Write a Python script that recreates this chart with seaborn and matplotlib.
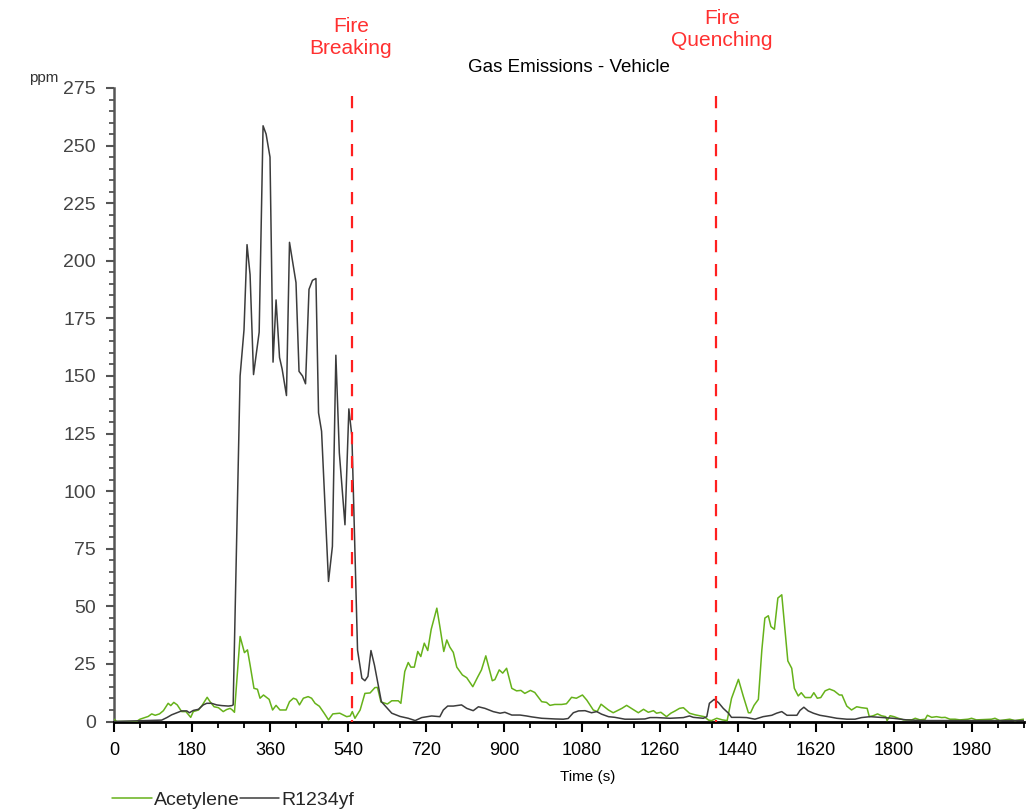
import numpy as np
import pandas as pd
import matplotlib
matplotlib.use("Agg")
import matplotlib.pyplot as plt
import matplotlib.transforms as mtransforms
from matplotlib.ticker import MultipleLocator
import seaborn as sns

# ---- data -------------------------------------------------------------
acet_t = [0, 6, 52, 60, 71, 79, 87, 95, 105, 114, 125, 131, 138, 146, 156, 166, 177, 183,
          195, 204, 215, 222, 231, 241, 252, 260, 268, 273, 278, 291, 301, 308, 314, 323,
          331, 337, 345, 358, 366, 374, 383, 397, 405, 414, 421, 428, 437, 448, 456, 464,
          474, 485, 495, 505, 521, 537, 545, 550, 556, 568, 579, 591, 602, 608, 616, 631,
          641, 656, 662, 671, 679, 685, 693, 701, 708, 716, 724, 732, 745, 752, 761, 768,
          775, 783, 791, 804, 814, 828, 839, 848, 858, 873, 879, 889, 897, 906, 918, 929,
          939, 948, 961, 971, 987, 998, 1006, 1017, 1033, 1044, 1048, 1056, 1067, 1081,
          1091, 1106, 1115, 1124, 1141, 1152, 1172, 1183, 1194, 1210, 1222, 1233, 1245,
          1252, 1262, 1275, 1285, 1295, 1305, 1314, 1328, 1341, 1352, 1362, 1372, 1379,
          1391, 1404, 1415, 1425, 1441, 1452, 1464, 1469, 1477, 1487, 1495, 1502, 1510,
          1516, 1524, 1532, 1541, 1555, 1564, 1570, 1579, 1586, 1595, 1608, 1615, 1623,
          1631, 1641, 1651, 1662, 1674, 1680, 1691, 1702, 1714, 1725, 1738, 1743, 1752,
          1762, 1771, 1781, 1784, 1791, 1800, 1810, 1822, 1841, 1849, 1860, 1872, 1877,
          1887, 1898, 1910, 1918, 1929, 1941, 1952, 1971, 1979, 1990, 2025, 2033, 2044,
          2067, 2079, 2099]
acet_ppm = [1, 0, 0, 1, 1.7, 2.2, 3.3, 2.7, 3.3, 4.7, 7.9, 6.9, 8.3, 7.2, 4.3, 4.3, 1.8, 4.3,
            5, 7.2, 10.5, 8.5, 6.4, 6, 4.3, 5.2, 5.7, 5, 4, 36.9, 29.9, 31.1, 24.6, 14.4,
            14, 10.1, 11.5, 9.6, 5, 7, 5, 5, 8.6, 10.1, 9.6, 7.2, 10.1, 10.8, 10.1, 7.9,
            6.6, 3.6, 0.7, 3.3, 3.6, 2.1, 2.4, 4.3, 1.4, 5, 12.2, 12.4, 14.7, 14.8, 8.5, 7.6,
            9, 9, 7.9, 21.7, 25.6, 23.6, 23.6, 30.4, 28.2, 34, 30.8, 40, 49.2, 41.2, 30.4, 35.4,
            32.3, 30, 23.6, 20.2, 19, 15.1, 19.2, 22.4, 28.5, 17.7, 18.2, 22.4, 21, 23.1, 14.4, 13.3,
            13.5, 12.2, 13.5, 12.6, 8.6, 8.3, 7, 7.4, 7.4, 7.7, 8.6, 10.5, 10.1, 11.5,
            9.3, 5, 4.3, 7.5, 5, 3.8, 5.7, 7, 5.7, 3.8, 5.3, 4, 4.7,
            3.6, 4, 2.1, 3.6, 4.6, 5.7, 6, 3.6, 2.9, 2.5, 2.1, 0.6, 0.4,
            1.4, 0.7, 0.4, 10, 18.3, 11.1, 3.8, 3.8, 7, 9.6, 31, 44.9, 45.9,
            41.2, 40, 53.6, 55, 26.3, 23.1, 14.4, 11.1, 12.5, 10.4, 10.4, 12.5, 10.1,
            10.4, 13.3, 14.1, 13.3, 11.5, 11.5, 6.7, 5, 6.4, 6, 5.7, 2.1, 2.5,
            3.3, 2.5, 2.1, 0.4, 2.5, 2.1, 1.4, 0.7, 0.7, 1.4, 0.7, 1, 2.7,
            1.8, 2.1, 1.7, 1.8, 1, 1, 0.7, 1, 1.4, 0.7, 1, 1.4, 0.4,
            1, 0.4, 1]

r1234_t = [0, 110, 122, 133, 145, 156, 168, 174, 183, 195, 206, 214, 225, 237, 249, 264, 272,
           275, 291, 300, 307, 314, 322, 335, 344, 351, 360, 367, 374, 382, 388, 398, 405,
           420, 427, 435, 442, 450, 458, 466, 472, 479, 495, 504, 512, 520, 533, 542, 549,
           562, 572, 579, 586, 593, 601, 617, 633, 641, 660, 679, 695, 710, 733, 752, 760,
           770, 783, 802, 814, 829, 841, 856, 875, 891, 902, 918, 937, 952, 964, 987, 1018,
           1037, 1048, 1060, 1072, 1087, 1102, 1114, 1125, 1141, 1156, 1179, 1202, 1225,
           1237, 1252, 1283, 1314, 1328, 1337, 1360, 1368, 1374, 1385, 1395, 1406, 1418,
           1425, 1444, 1460, 1479, 1498, 1518, 1529, 1541, 1553, 1576, 1583, 1592, 1602,
           1614, 1629, 1648, 1668, 1691, 1710, 1725, 1745, 1768, 1798, 1829, 1868, 2099]
r1234_ppm = [0, 0.6, 1.7, 2.9, 3.8, 4.6, 4.6, 3.8, 4.8, 5.3, 7.2, 7.9, 7.9, 7.2, 6.9, 6.7, 6.9,
             7.2, 150, 170, 207, 194, 150.6, 169, 258.6, 255, 245, 156, 183, 158, 153, 141.5, 208,
             190.5, 152, 150, 146.6, 187.6, 191.5, 192.3, 134, 126, 60.8, 76, 159, 116.6, 85.4, 135.7, 123.8,
             31, 18.8, 17.7, 19.6, 30.8, 24.5, 8.6, 5.3, 3.6, 2.2, 1.4, 0.4, 1.7, 2.4, 2.1, 5,
             6.7, 6.7, 7.2, 5.7, 4.7, 6.4, 5.7, 4.3, 3.6, 4, 2.8, 2.8, 2.4, 2, 1.4, 1.1,
             1, 1.3, 3.8, 4.6, 4.7, 3.8, 4.3, 3.2, 2.1, 1.8, 1, 1, 1.1,
             1.7, 1.7, 1.4, 1.7, 2.4, 1.8, 1.4, 2.1, 7.9, 9.6, 8.2, 5.7, 3.6,
             1.8, 1.8, 1.7, 1, 2.1, 2.7, 3.6, 4.3, 2.7, 2.7, 4.8, 6.2, 4.6,
             3.6, 2.7, 2.1, 1.4, 1, 1, 1.7, 2.1, 1.8, 1.4, 0.7, 0.4, 0.4]

events_t = [550, 1390]
event_labels = ["Fire\nBreaking", "Fire\nQuenching"]
event_label_t = [547, 1403]

x_major = list(range(0, 1981, 180))
y_major = list(range(0, 276, 25))

# ---- styling ----------------------------------------------------------
sns.set_theme(style="ticks")
plt.rcParams["font.family"] = ["Liberation Sans", "DejaVu Sans"]

GREEN = "#66b21a"
GREY = "#3c3c3c"
RED = "#ff1f1f"

W, H = 1033, 810
fig = plt.figure(figsize=(W / 100, H / 100), dpi=100)
ax_left, ax_right, ax_bottom, ax_top = 114, 1024, 721.5, 88
ax = fig.add_axes([ax_left / W, 1 - ax_bottom / H,
                   (ax_right - ax_left) / W, (ax_bottom - ax_top) / H])

acet = pd.DataFrame({"Time (s)": acet_t, "ppm": acet_ppm})
r1234 = pd.DataFrame({"Time (s)": r1234_t, "ppm": r1234_ppm})

sns.lineplot(data=acet, x="Time (s)", y="ppm", ax=ax, color=GREEN, lw=1.1,
             label="Acetylene", estimator=None, sort=False, zorder=3)
sns.lineplot(data=r1234, x="Time (s)", y="ppm", ax=ax, color=GREY, lw=1.1,
             label="R1234yf", estimator=None, sort=False, zorder=4)

# event markers, dashes drawn from the top down
for t in events_t:
    ax.plot([t, t], [271.5, 0], color=RED, linestyle=(0, (5.5, 5.3)), lw=1.6, zorder=5)

blend = mtransforms.blended_transform_factory(ax.transData, fig.transFigure)
ax.text(event_label_t[0], 1 - 37.5 / H, event_labels[0], transform=blend, ha="center",
        va="center", color="#ff3030", fontsize=15, linespacing=1.15)
ax.text(event_label_t[1], 1 - 29.5 / H, event_labels[1], transform=blend, ha="center",
        va="center", color="#ff3030", fontsize=15, linespacing=1.15)

ax.set_xlim(0, 2100)
ax.set_ylim(0, 275)
ax.set_xticks(x_major)
ax.set_yticks(y_major)
ax.xaxis.set_minor_locator(MultipleLocator(60))
ax.yaxis.set_minor_locator(MultipleLocator(5))

for s in ("top", "right"):
    ax.spines[s].set_visible(False)
ax.spines["left"].set_color("#555555")
ax.spines["left"].set_linewidth(1.8)
ax.spines["bottom"].set_color("black")
ax.spines["bottom"].set_linewidth(2.0)

ax.tick_params(axis="x", which="major", direction="out", length=7, width=1.5,
               color="black", labelsize=13, labelcolor="black", pad=8)
ax.tick_params(axis="x", which="minor", direction="out", length=4, width=1.3, color="black")
ax.tick_params(axis="y", which="major", direction="out", length=6, width=1.5,
               color="#555555", labelsize=14, labelcolor="#444444", pad=7)
ax.tick_params(axis="y", which="minor", direction="out", length=3.5, width=1.3, color="#555555")

ax.set_xlabel("")
ax.set_ylabel("")
ax.grid(False)

fig.text(569 / W, 1 - 68 / H, "Gas Emissions - Vehicle", ha="center", va="center",
         fontsize=13.5, color="black")
fig.text(44 / W, 1 - 78 / H, "ppm", ha="center", va="center", fontsize=11, color="#333333")
fig.text(588 / W, 1 - 777 / H, "Time (s)", ha="center", va="center", fontsize=11, color="black")

ax.get_legend().remove()
handles, labels = ax.get_legend_handles_labels()
fig.legend(handles, labels, loc="center left", bbox_to_anchor=(112 / W, 1 - 800 / H),
           ncol=2, frameon=False, fontsize=14, handlelength=2.05, handletextpad=0.1,
           columnspacing=0.0, borderaxespad=0, borderpad=0)

fig.savefig("out.png", dpi=100, facecolor="white")
